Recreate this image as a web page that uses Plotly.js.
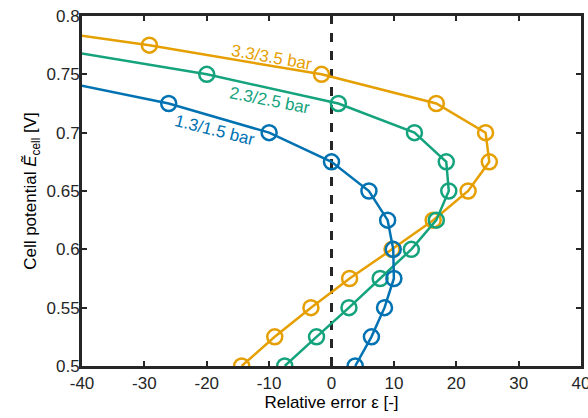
<!DOCTYPE html>
<html>
<head>
<meta charset="utf-8">
<script src="https://cdn.plot.ly/plotly-3.0.1.min.js"></script>
<style>html,body{margin:0;padding:0;background:#fff;}#chart{width:588px;height:418px;}</style>
</head>
<body>
<div id="chart"></div>
<script>
// Cell potential levels (V)
const potential1 = [0.75, 0.725, 0.7, 0.675, 0.65, 0.625, 0.6, 0.575, 0.55, 0.525, 0.5];
const potential2 = [0.775, 0.75, 0.725, 0.7, 0.675, 0.65, 0.625, 0.6, 0.575, 0.55, 0.525, 0.5];
const potential3 = [0.8, 0.775, 0.75, 0.725, 0.7, 0.675, 0.65, 0.625, 0.6, 0.575, 0.55, 0.525, 0.5];
// Relative error (%) per pressure series
const error13 = [-49, -26.1, -10, 0, 6, 9, 9.9, 10, 8.5, 6.4, 3.8];
const error23 = [-48, -20, 1.1, 13.3, 18.4, 18.8, 16.8, 12.8, 7.8, 2.8, -2.4, -7.5];
const error33 = [-63, -29.2, -1.6, 16.8, 24.7, 25.3, 21.9, 16.3, 9.7, 2.9, -3.3, -9.1, -14.4];
const seriesNames = ['1.3/1.5 bar', '2.3/2.5 bar', '3.3/3.5 bar'];
const xTicks = [-40, -30, -20, -10, 0, 10, 20, 30, 40];
const yTicks = [0.5, 0.55, 0.6, 0.65, 0.7, 0.75, 0.8];
const zeroLineY = [0.5, 0.8];
const zeroLineX = [0, 0];

const colors = ['#0072B2', '#14A37C', '#E69F00'];
const font = '"Liberation Sans", Arial, Helvetica, sans-serif';

function series(x, y, c, name) {
  return {
    x: x, y: y, name: name, type: 'scatter', mode: 'lines+markers',
    line: {color: c, width: 2.5},
    marker: {symbol: 'circle-open', size: 15, color: c, line: {width: 2.5, color: c}},
    cliponaxis: true, showlegend: false
  };
}

const data = [
  {x: zeroLineX, y: zeroLineY, type: 'scatter', mode: 'lines',
   line: {color: '#262626', width: 3, dash: 'dash'}, showlegend: false, hoverinfo: 'skip'},
  series(error33, potential3, colors[2], seriesNames[2]),
  series(error23, potential2, colors[1], seriesNames[1]),
  series(error13, potential1, colors[0], seriesNames[0])
];

const axisCommon = {
  showgrid: false, zeroline: false, showline: true, linewidth: 3, linecolor: '#262626',
  mirror: 'ticks', ticks: 'inside', ticklen: 5, tickwidth: 2, tickcolor: '#262626',
  ticklabeloverflow: 'allow',
  tickfont: {family: font, size: 17, color: '#262626'}
};

const layout = {
  width: 588, height: 418,
  margin: {l: 82, r: 7, t: 16, b: 52},
  paper_bgcolor: '#fff', plot_bgcolor: '#fff',
  xaxis: Object.assign({}, axisCommon, {
    range: [-40, 40], tickvals: xTicks, ticktext: xTicks.map(String),
    title: {text: 'Relative error ε [-]', font: {family: font, size: 17, color: '#000'}, standoff: 4}
  }),
  yaxis: Object.assign({}, axisCommon, {
    range: [0.5, 0.8], tickvals: yTicks, ticktext: yTicks.map(String),
    ticklabelstandoff: -4,
    title: {text: 'Cell potential <i>Ẽ</i><sub>cell</sub> [V]', font: {family: font, size: 17, color: '#000'}, standoff: 6}
  }),
  annotations: [
    {text: seriesNames[2], x: -9.5, y: 0.7648, xref: 'x', yref: 'y', xanchor: 'center', yanchor: 'middle',
     showarrow: false, textangle: 10, font: {family: font, size: 17, color: colors[2]}},
    {text: seriesNames[1], x: -9.9, y: 0.7279, xref: 'x', yref: 'y', xanchor: 'center', yanchor: 'middle',
     showarrow: false, textangle: 11, font: {family: font, size: 17, color: colors[1]}},
    {text: seriesNames[0], x: -18.6, y: 0.7022, xref: 'x', yref: 'y', xanchor: 'center', yanchor: 'middle',
     showarrow: false, textangle: 14, font: {family: font, size: 17, color: colors[0]}}
  ]
};

Plotly.newPlot('chart', data, layout, {displayModeBar: false, staticPlot: true});
</script>
</body>
</html>
